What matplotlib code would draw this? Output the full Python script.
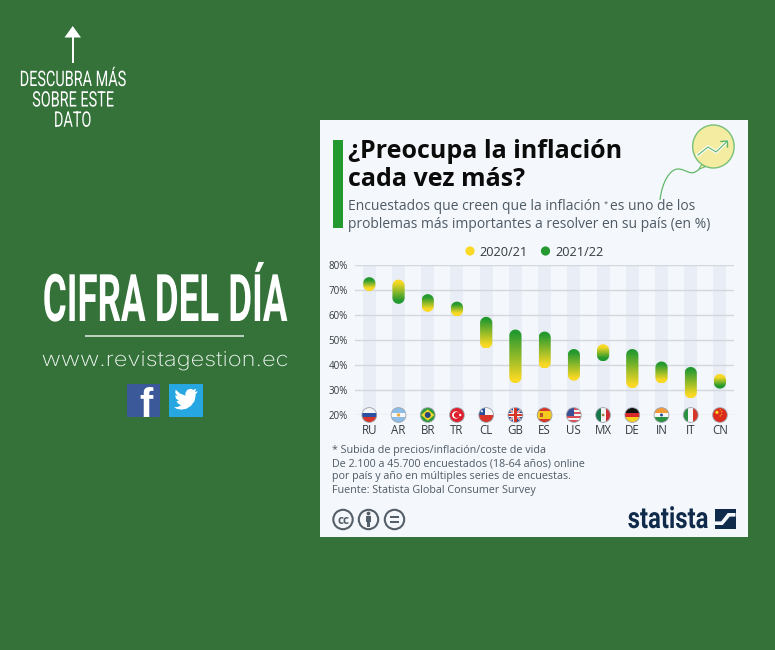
import numpy as np
import matplotlib
matplotlib.use("Agg")
import matplotlib.pyplot as plt
from matplotlib.patches import Rectangle, Circle, Ellipse, Polygon, PathPatch
from matplotlib.path import Path
from matplotlib.colors import LinearSegmentedColormap
from matplotlib.patheffects import AbstractPathEffect
from matplotlib.transforms import Affine2D

countries = ["RU", "AR", "BR", "TR", "CL", "GB", "ES", "US", "MX", "DE", "IN", "IT", "CN"]
y2021 = [72.1, 71.8, 63.8, 62.0, 49.1, 35.2, 41.1, 36.2, 45.9, 33.2, 35.1, 29.1, 34.0]
y2022 = [72.8, 67.0, 66.0, 63.0, 56.9, 51.8, 51.0, 44.0, 44.0, 44.0, 39.0, 36.8, 33.0]
yticks = [20, 30, 40, 50, 60, 70, 80]
series_names = ["2020/21", "2021/22"]

BG = "#34723a"
CARD = "#f4f7fb"
GREEN = "#23992f"
YELLOW = "#f9d924"
NAVY = "#0f2a4a"
W, H = 775, 650
NARROW = ["Liberation Sans Narrow", "Roboto"]
OS = ["Open Sans", "DejaVu Sans"]


class StretchY(AbstractPathEffect):
    """Stretch glyphs vertically about a display-space y."""
    def __init__(self, sy, ypx):
        super().__init__()
        self.sy, self.y0 = sy, H - ypx

    def draw_path(self, renderer, gc, tpath, affine, rgbFace=None):
        t = affine + Affine2D().translate(0, -self.y0).scale(1, self.sy).translate(0, self.y0)
        renderer.draw_path(gc, tpath, t, rgbFace)


fig = plt.figure(figsize=(W / 100, H / 100), dpi=100, facecolor=BG)


def px_axes(z):
    a = fig.add_axes([0, 0, 1, 1], zorder=z)
    a.set_xlim(0, W)
    a.set_ylim(H, 0)
    a.axis("off")
    a.patch.set_alpha(0)
    return a


bg = px_axes(0)
fg = px_axes(5)

# ---- left panel
bg.add_patch(Polygon([(72.7, 26), (64.5, 37.5), (81, 37.5)], fc="white", ec="none"))
bg.add_patch(Rectangle((71.8, 37), 1.8, 26, fc="white", ec="none"))
for s, yy in zip(["DESCUBRA MÁS", "SOBRE ESTE", "DATO"], [86, 106.5, 126.7]):
    bg.text(72.5, yy, s, color="white", fontsize=10.4, family=NARROW, ha="center", va="baseline",
            path_effects=[StretchY(1.48, yy)])
bg.text(165, 321, "CIFRA DEL DÍA", color="white", fontsize=26.4, family=NARROW, weight="bold",
        ha="center", va="baseline", path_effects=[StretchY(1.79, 321)])
bg.plot([85, 244], [335.5, 335.5], color="#e6efe6", lw=1.1, solid_capstyle="butt")
bg.text(165, 366, "www.revistagestion.ec", color="#f1f5f1", fontsize=17, family=["Inter", "Lato", "DejaVu Sans"],
        weight="light", ha="center", va="baseline", path_effects=[StretchY(0.86, 366)])
bg.add_patch(Rectangle((127, 383.5), 33, 33.5, fc="#3b5998", ec="none"))
bg.text(146, 417, "f", color="white", fontsize=29, family=["Liberation Sans", "DejaVu Sans"], weight="bold",
        ha="center", va="baseline", clip_on=True,
        clip_path=Rectangle((127, 383.5), 33, 33.5, transform=bg.transData))
bg.add_patch(Rectangle((168.5, 383.5), 34.5, 33.5, fc="#27a7e1", ec="none"))
bird = np.array([(1.0, .14), (.9, .26), (.9, .32), (.85, .55), (.7, .75), (.5, .87), (.3, .9), (.12, .87),
                 (0, .8), (.15, .79), (.3, .72), (.17, .65), (.1, .55), (.2, .54), (.08, .43), (.05, .3),
                 (.15, .33), (.05, .2), (.07, .07), (.25, .23), (.48, .32), (.47, .22), (.55, .08),
                 (.7, .03), (.8, .08), (.93, .03), (.87, .16)])
bg.add_patch(Polygon(bird * [24, 24] + [174, 388], fc="white", ec="none"))

# ---- card
bg.add_patch(Rectangle((320, 120), 428, 417, fc=CARD, ec="none"))
bg.add_patch(Rectangle((332.7, 140), 10, 87.7, fc=GREEN, ec="none"))
bg.text(348, 158, "¿Preocupa la inflación", fontsize=18.0, weight="bold", family=OS, color="#0b0b0b", va="baseline")
bg.text(348, 186, "cada vez más?", fontsize=18.0, weight="bold", family=OS, color="#0b0b0b", va="baseline")
SUB = "#4f5b66"
bg.text(348, 210.5, "Encuestados que creen que la inflación", fontsize=10.03, family=OS, color=SUB, va="baseline")
bg.text(603.5, 206, "*", fontsize=5.5, family=OS, color=SUB, va="baseline")
bg.text(610.5, 210.5, "es uno de los", fontsize=10.03, family=OS, color=SUB, va="baseline")
bg.text(348, 227.5, "problemas más importantes a resolver en su país (en %)", fontsize=10.03, family=OS,
        color=SUB, va="baseline")

# balloon
bg.add_patch(PathPatch(Path([(660, 200), (662, 182), (670, 169), (678, 169), (685, 169), (690, 175),
                             (695, 172), (697, 171), (699, 170), (701, 167)],
                            [1, 4, 4, 4, 4, 4, 4, 4, 4, 4]), fc="none", ec="#62b96a", lw=0.9))
bg.add_patch(Polygon([(699, 169), (702, 164), (705, 167)], fc="#f4eca0", ec="#62b96a", lw=0.7))
bg.add_patch(Ellipse((713.4, 146.5), 41.5, 43, fc="#f4eca0", ec="#78c07a", lw=1))
bg.plot([698, 708, 716, 727], [155, 147, 152, 141.5], color="white", lw=2.4, solid_joinstyle="miter")
bg.plot([698, 708, 716, 727], [155, 147, 152, 141.5], color="#5cb668", lw=0.8)
bg.plot([721, 727.5, 727.5], [141.5, 141, 147], color="#5cb668", lw=1)

# legend
for x, tx, c, n in zip([470, 545.5], [479.5, 555], [YELLOW, GREEN], series_names):
    bg.add_patch(Circle((x, 251), 4.6, fc=c, ec="none"))
    bg.text(tx, 251, n, fontsize=9.2, family=OS, color="#333b42", va="center_baseline")

# ---- chart
x0, dx = 369.3, 29.22
ax_h = 149.7
ax = fig.add_axes([355 / W, (H - 415) / H, 379 / W, ax_h / H], zorder=2)
ax.patch.set_alpha(0)
ax.set_xlim((355 - x0) / dx, (734 - x0) / dx)
ax.set_ylim(20, 80)
for s in ax.spines.values():
    s.set_visible(False)
ax.set_yticks(yticks)
ax.set_yticklabels([f"{v}%" for v in yticks], fontsize=7.0, family=OS, color="#333b42")
ax.set_xticks(range(len(countries)))
ax.set_xticklabels(countries, fontsize=8.3, family=OS, color="#333b42")
ax.tick_params(axis="y", length=0, pad=5)
ax.tick_params(axis="x", length=0, pad=6.5)
ax.grid(axis="y", color="#d3d8dd", lw=1, zorder=1)
ax.set_axisbelow(True)
ax.bar(range(len(countries)), [80 - 20] * len(countries), bottom=20, width=13 / dx, color="#e9edf5", zorder=0.5)

cmap = LinearSegmentedColormap.from_list("yg", [YELLOW, GREEN])
R_PX = 6.1
rx = R_PX / dx
ry = R_PX / (ax_h / 60)
theta = np.linspace(0, np.pi, 40)
for i, (a, b) in enumerate(zip(y2021, y2022)):
    lo, hi = min(a, b), max(a, b)
    ys = np.linspace(lo - ry, hi + ry, 160)
    t = np.clip((ys - (lo - 0.5 * ry)) / (hi - lo + ry), 0, 1)
    if a > b:
        t = 1 - t
    im = ax.imshow(t.reshape(-1, 1), cmap=cmap, vmin=0, vmax=1, origin="lower", aspect="auto", zorder=3,
                   extent=(i - rx, i + rx, lo - ry, hi + ry), interpolation="bilinear")
    top = np.c_[i + rx * np.cos(theta), hi + ry * np.sin(theta)]
    bot = np.c_[i - rx * np.cos(theta), lo - ry * np.sin(theta)]
    outline = Polygon(np.vstack([top, bot]), closed=True, transform=ax.transData, fc="none", ec="none")
    ax.add_patch(outline)
    im.set_clip_path(outline)
ax.set_xlim((355 - x0) / dx, (734 - x0) / dx)
ax.set_ylim(20, 80)


# ---- flags
def flag(code, cx, cy, r=7.4):
    clip = Circle((cx, cy), r, transform=fg.transData)

    def rect(u0, v0, u1, v1, c):
        p = Rectangle((cx - r + u0 * 2 * r, cy - r + v0 * 2 * r), (u1 - u0) * 2 * r, (v1 - v0) * 2 * r, fc=c, ec="none")
        fg.add_patch(p)
        p.set_clip_path(clip)

    def poly(pts, c):
        p = Polygon([(cx - r + u * 2 * r, cy - r + v * 2 * r) for u, v in pts], fc=c, ec="none")
        fg.add_patch(p)
        p.set_clip_path(clip)

    def circ(u, v, rr, c):
        p = Circle((cx - r + u * 2 * r, cy - r + v * 2 * r), rr * 2 * r, fc=c, ec="none")
        fg.add_patch(p)
        p.set_clip_path(clip)

    if code == "RU":
        rect(0, 0, 1, 1 / 3, "#f4f4f4"); rect(0, 1 / 3, 1, 2 / 3, "#2b4fa3"); rect(0, 2 / 3, 1, 1, "#d8352a")
    elif code == "AR":
        rect(0, 0, 1, 1 / 3, "#8cbde6"); rect(0, 1 / 3, 1, 2 / 3, "#f6f6f6"); rect(0, 2 / 3, 1, 1, "#8cbde6")
        circ(.5, .5, .11, "#eda93a")
    elif code == "BR":
        rect(0, 0, 1, 1, "#2f9a3c"); poly([(.5, .12), (.95, .5), (.5, .88), (.05, .5)], "#f5d92a")
        circ(.5, .5, .2, "#27457f")
    elif code == "TR":
        rect(0, 0, 1, 1, "#e01f2d"); circ(.42, .5, .25, "#ffffff"); circ(.49, .5, .2, "#e01f2d")
        circ(.72, .5, .08, "#ffffff")
    elif code == "CL":
        rect(0, 0, 1, .5, "#f4f4f4"); rect(0, .5, 1, 1, "#d8352a"); rect(0, 0, .42, .5, "#24509e")
        circ(.21, .25, .07, "#ffffff")
    elif code == "GB":
        rect(0, 0, 1, 1, "#2a4b94")
        for q in ([(0, .1), (.1, 0), (1, .9), (.9, 1)], [(1, .1), (.9, 0), (0, .9), (.1, 1)]):
            poly(q, "#f4f4f4")
        for q in ([(0, .03), (.03, 0), (1, .97), (.97, 1)], [(1, .03), (.97, 0), (0, .97), (.03, 1)]):
            poly(q, "#d8352a")
        rect(.36, 0, .64, 1, "#f4f4f4"); rect(0, .36, 1, .64, "#f4f4f4")
        rect(.42, 0, .58, 1, "#d8352a"); rect(0, .42, 1, .58, "#d8352a")
    elif code == "ES":
        rect(0, 0, 1, 1, "#d8352a"); rect(0, .25, 1, .75, "#f6c91f"); rect(.22, .36, .4, .64, "#b8502a")
    elif code == "US":
        rect(0, 0, 1, 1, "#f4f4f4")
        for k in range(0, 7, 2):
            rect(0, k / 7, 1, (k + 1) / 7, "#d8505a")
        rect(0, 0, .5, 4 / 7, "#3a4f94")
    elif code == "MX":
        rect(0, 0, 1 / 3, 1, "#17754a"); rect(1 / 3, 0, 2 / 3, 1, "#f4f4f4"); rect(2 / 3, 0, 1, 1, "#cf2e34")
        circ(.5, .5, .09, "#9c7a3c")
    elif code == "DE":
        rect(0, 0, 1, 1 / 3, "#111111"); rect(0, 1 / 3, 1, 2 / 3, "#d8272d"); rect(0, 2 / 3, 1, 1, "#f7cf1d")
    elif code == "IN":
        rect(0, 0, 1, 1 / 3, "#f39a35"); rect(0, 1 / 3, 1, 2 / 3, "#f6f6f6"); rect(0, 2 / 3, 1, 1, "#2a9240")
        circ(.5, .5, .1, "#2a4b94")
    elif code == "IT":
        rect(0, 0, 1 / 3, 1, "#2a9240"); rect(1 / 3, 0, 2 / 3, 1, "#f4f4f4"); rect(2 / 3, 0, 1, 1, "#d8352a")
    elif code == "CN":
        rect(0, 0, 1, 1, "#dd2a1e"); circ(.3, .32, .11, "#f7d51d")
        for u, v in [(.52, .15), (.62, .28), (.62, .45), (.52, .56)]:
            circ(u, v, .04, "#f7d51d")
    fg.add_patch(Circle((cx, cy), r, fc="none", ec="#9aa3ad", lw=0.6))


inv = fg.transData.inverted()
for i, c in enumerate(countries):
    cx, cy = inv.transform(ax.transData.transform((i, 20)))
    flag(c, cx, cy)

# ---- notes
NOTE = "#4f5b66"
for s, yy in zip(["* Subida de precios/inflación/coste de vida",
                  "De 2.100 a 45.700 encuestados (18-64 años) online",
                  "por país y año en múltiples series de encuestas."], [453, 466, 479]):
    bg.text(332.5, yy, s, fontsize=7.79, family=OS, color=NOTE, va="baseline")
bg.text(332.5, 493.5, "Fuente: Statista Global Consumer Survey", fontsize=7.75, family=OS, color=NOTE, va="baseline")

# licence icons
ICON = "#555f69"
for x in [343, 368.5, 394.5]:
    bg.add_patch(Circle((x, 519.5), 9.7, fc="none", ec=ICON, lw=1.5))
bg.text(343, 519.5, "cc", fontsize=8.5, weight="bold", family=OS, color=ICON, ha="center", va="center_baseline")
bg.add_patch(Circle((368.5, 513.5), 1.9, fc=ICON, ec="none"))
bg.add_patch(Rectangle((365.8, 516), 5.4, 5.5, fc=ICON, ec="none"))
bg.add_patch(Rectangle((367, 521), 3, 6, fc=ICON, ec="none"))
bg.add_patch(Rectangle((390, 516.3), 9, 1.8, fc=ICON, ec="none"))
bg.add_patch(Rectangle((390, 520.7), 9, 1.8, fc=ICON, ec="none"))

# statista
bg.text(668, 528, "statista", fontsize=17.2, family=NARROW, weight="bold", color=NAVY, ha="center", va="baseline",
        path_effects=[StretchY(1.24, 528)])
bg.add_patch(Rectangle((715, 509), 20.5, 20, fc=NAVY, ec="none"))
band = np.array([(0, .62), (.3, .62), (.62, .2), (1, .2), (1, .38), (.72, .38), (.38, .8), (0, .8)])
bg.add_patch(Polygon(band * [20.5, 20] + [715, 509], fc=CARD, ec="none"))

fig.savefig("out.png", dpi=100, facecolor=BG)
